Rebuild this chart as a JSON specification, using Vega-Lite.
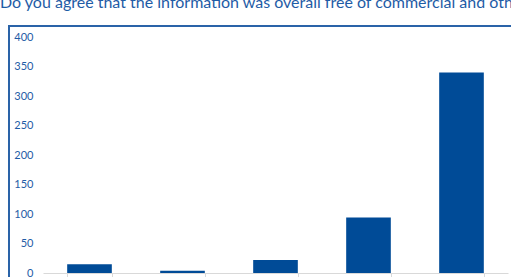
{
  "$schema": "https://vega.github.io/schema/vega-lite/v6.json",
  "autosize": "none",
  "padding": {"left": 9, "top": 26, "right": 0, "bottom": 0},
  "width": 510,
  "height": 260,
  "background": "white",
  "title": {
    "text": "Do you agree that the information was overall free of commercial and other bias?",
    "anchor": "start",
    "offset": 15,
    "dx": -9,
    "font": "Lato",
    "fontSize": 16,
    "fontWeight": "normal",
    "color": "#1f5ca6"
  },
  "config": {
    "view": {"stroke": "#2a63a8", "strokeWidth": 2},
    "axis": {"labelFont": "Lato", "labelFontSize": 11, "labelColor": "#1f5ca6", "grid": false, "title": null}
  },
  "data": {
    "values": [
      {"answer": "Strongly disagree", "count": 15},
      {"answer": "Disagree", "count": 4},
      {"answer": "Neutral", "count": 22},
      {"answer": "Agree", "count": 94},
      {"answer": "Strongly agree", "count": 340}
    ]
  },
  "mark": {"type": "bar", "color": "#004b97"},
  "encoding": {
    "x": {
      "field": "answer",
      "type": "nominal",
      "sort": null,
      "scale": {"range": [34, 499], "paddingInner": 0.52, "paddingOuter": 0.26},
      "axis": {
        "orient": "bottom",
        "offset": -13,
        "domainColor": "#d9d9d9",
        "domainWidth": 1,
        "tickColor": "#d9d9d9",
        "tickBand": "extent",
        "tickSize": 6,
        "labelPadding": 12,
        "labelAngle": 0
      }
    },
    "y": {
      "field": "count",
      "type": "quantitative",
      "scale": {"domain": [0, 400], "range": [247, 11], "nice": false},
      "axis": {
        "orient": "left",
        "offset": -24,
        "values": [0, 50, 100, 150, 200, 250, 300, 350, 400],
        "domain": false,
        "ticks": false,
        "tickSize": 0,
        "labelPadding": 0
      }
    }
  }
}
